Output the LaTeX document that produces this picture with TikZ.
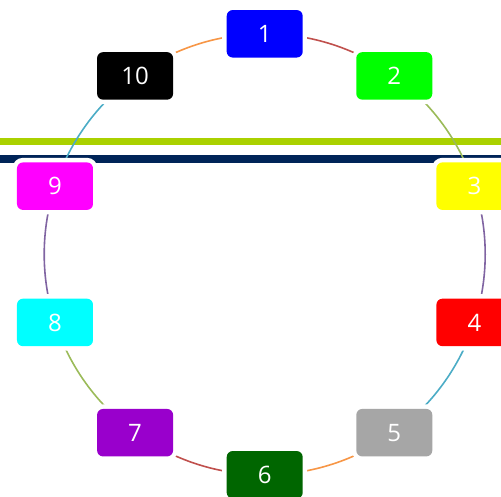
\documentclass[tikz,border=0pt]{standalone}
\usepackage{fontspec}
\setmainfont{Open Sans}
\usetikzlibrary{calc}
\definecolor{cRed}{HTML}{C0504D}
\definecolor{cOlive}{HTML}{9BBB59}
\definecolor{cPurple}{HTML}{8064A2}
\definecolor{cTeal}{HTML}{4BACC6}
\definecolor{cOrange}{HTML}{F79646}
\definecolor{bandGreen}{HTML}{AAD100}
\definecolor{bandNavy}{HTML}{002458}
\definecolor{bBlue}{HTML}{0000FF}
\definecolor{bGreen}{HTML}{00FF00}
\definecolor{bYellow}{HTML}{FFFF00}
\definecolor{bRed}{HTML}{FF0000}
\definecolor{bGray}{HTML}{A6A6A6}
\definecolor{bDarkGreen}{HTML}{006600}
\definecolor{bViolet}{HTML}{9900CC}
\definecolor{bCyan}{HTML}{00FFFF}
\definecolor{bMagenta}{HTML}{FF00FF}
\definecolor{bBlack}{HTML}{000000}
\tikzset{
  numbox/.style={rectangle, rounded corners=6pt, minimum width=76pt, minimum height=47.5pt,
    inner sep=0pt, fill=#1, text=white, font=\fontsize{24}{24}\selectfont,
    preaction={draw=white, line width=9pt}},
  link/.style={line width=1.6pt, draw=#1}
}
\begin{document}
\begin{tikzpicture}[x=1pt,y=1pt]
\useasboundingbox (0,0) rectangle (501,497);
\clip (0,0) rectangle (501,497);
% bands
\fill[bandGreen] (0,351.7) rectangle (501,358.7);
\fill[bandNavy] (0,333.7) rectangle (501,341.7);
% node positions
\coordinate (c) at (264.7,242.7);
\foreach \i in {1,...,10} {
  \pgfmathsetmacro{\ang}{90-36*(\i-1)}
  \coordinate (p\i) at ($(c)+(\ang:220.5)$);
}
% arcs
\draw[link=cRed]    (p1)  arc[start angle=90,   end angle=54,   radius=220.5];
\draw[link=cOlive]  (p2)  arc[start angle=54,   end angle=18,   radius=220.5];
\draw[link=cPurple] (p3)  arc[start angle=18,   end angle=-18,  radius=220.5];
\draw[link=cTeal]   (p4)  arc[start angle=-18,  end angle=-54,  radius=220.5];
\draw[link=cOrange] (p5)  arc[start angle=-54,  end angle=-90,  radius=220.5];
\draw[link=cRed]    (p6)  arc[start angle=-90,  end angle=-126, radius=220.5];
\draw[link=cOlive]  (p7)  arc[start angle=-126, end angle=-162, radius=220.5];
\draw[link=cPurple] (p8)  arc[start angle=-162, end angle=-198, radius=220.5];
\draw[link=cTeal]   (p9)  arc[start angle=-198, end angle=-234, radius=220.5];
\draw[link=cOrange] (p10) arc[start angle=-234, end angle=-270, radius=220.5];
% boxes
\node[numbox=bBlue]      (n1)  at (p1)  {1};
\node[numbox=bGreen]     (n2)  at (p2)  {2};
\node[numbox=bYellow]    (n3)  at (p3)  {3};
\node[numbox=bRed]       (n4)  at (p4)  {4};
\node[numbox=bGray]      (n5)  at (p5)  {5};
\node[numbox=bDarkGreen] (n6)  at (p6)  {6};
\node[numbox=bViolet]    (n7)  at (p7)  {7};
\node[numbox=bCyan]      (n8)  at (p8)  {8};
\node[numbox=bMagenta]   (n9)  at (p9)  {9};
\node[numbox=bBlack]     (n10) at (p10) {10};
\end{tikzpicture}
\end{document}
